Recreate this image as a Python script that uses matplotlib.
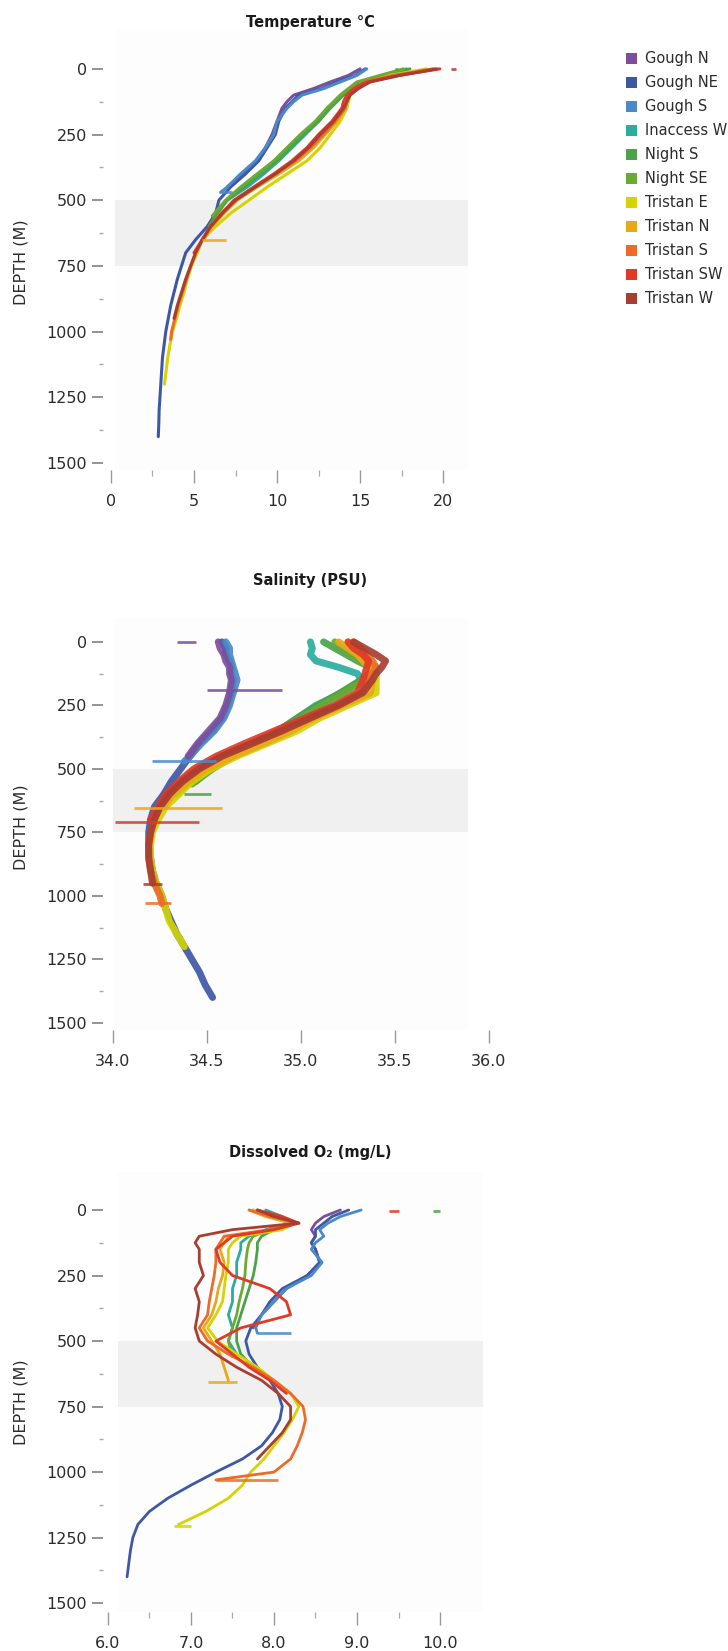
import matplotlib
matplotlib.use("Agg")
import matplotlib.pyplot as plt
from matplotlib.patches import Rectangle
from matplotlib.ticker import FixedLocator, FormatStrFormatter

plt.rcParams['font.family'] = ['DejaVu Sans']

# ---------------- data ----------------
STATIONS = ["Gough N", "Gough NE", "Gough S", "Inaccess W", "Night S", "Night SE",
            "Tristan E", "Tristan N", "Tristan S", "Tristan SW", "Tristan W"]
COLORS = ["#7b4f9e", "#3f58a6", "#4a8ac9", "#2aada0", "#4aa24a", "#6aaa35",
          "#d3d400", "#eaa819", "#ec6c27", "#e03a26", "#a83e32"]

GOUGH_N_DEPTH = [0, 25, 50, 75, 100, 125, 150, 200, 250, 300, 350, 400, 450]
GOUGH_N_TEMP = [15.0, 14.3, 13.2, 12.2, 11.0, 10.6, 10.3, 10.0, 9.7, 9.3, 8.8, 7.9, 7.0]
GOUGH_N_SAL = [34.56, 34.57, 34.59, 34.60, 34.62, 34.62, 34.63, 34.62, 34.60, 34.57, 34.51, 34.45, 34.40]
GOUGH_N_O2 = [8.8, 8.6, 8.5, 8.45, 8.5, 8.45, 8.5, 8.55, 8.4, 8.15, 8.0, 7.85, 7.75]

GOUGH_NE_DEPTH = [0, 25, 50, 75, 100, 125, 150, 200, 250, 300, 350, 400, 450, 500, 550, 600,
                  650, 700, 750, 800, 850, 900, 950, 1000, 1050, 1100, 1150, 1200, 1250, 1300, 1350, 1400]
GOUGH_NE_TEMP = [15.3, 14.7, 13.6, 12.7, 11.3, 10.9, 10.5, 10.1, 9.9, 9.4, 8.9, 8.1, 7.2, 6.5, 6.3, 5.8,
                 5.1, 4.5, 4.25, 4.0, 3.8, 3.6, 3.45, 3.3, 3.2, 3.1, 3.05, 3.0, 2.95, 2.9, 2.88, 2.85]
GOUGH_NE_SAL = [34.58, 34.60, 34.60, 34.62, 34.63, 34.63, 34.64, 34.63, 34.61, 34.58, 34.53, 34.46, 34.41,
                34.36, 34.31, 34.27, 34.22, 34.20, 34.19, 34.19, 34.20, 34.21, 34.23, 34.26, 34.28, 34.31,
                34.34, 34.38, 34.42, 34.46, 34.49, 34.53]
GOUGH_NE_O2 = [8.9, 8.7, 8.6, 8.5, 8.5, 8.45, 8.5, 8.55, 8.4, 8.1, 7.95, 7.85, 7.72, 7.66, 7.7, 7.8,
               7.95, 8.05, 8.1, 8.07, 7.98, 7.85, 7.62, 7.3, 7.0, 6.72, 6.5, 6.36, 6.3, 6.27, 6.25, 6.23]

GOUGH_S_DEPTH = [0, 25, 50, 75, 100, 125, 150, 200, 250, 300, 350, 400, 450, 470]
GOUGH_S_TEMP = [15.4, 14.8, 13.8, 12.8, 11.5, 11.0, 10.6, 10.0, 9.8, 9.3, 8.7, 7.8, 7.0, 6.6]
GOUGH_S_SAL = [34.60, 34.62, 34.62, 34.63, 34.64, 34.65, 34.66, 34.64, 34.62, 34.59, 34.54, 34.47, 34.41, 34.38]
GOUGH_S_O2 = [9.05, 8.8, 8.65, 8.55, 8.6, 8.5, 8.45, 8.58, 8.45, 8.15, 8.0, 7.85, 7.78, 7.8]

INACCESS_W_DEPTH = [0, 25, 50, 75, 100, 125, 150, 200, 250, 300, 350, 400, 450, 500, 550]
INACCESS_W_TEMP = [17.8, 16.5, 15.0, 14.4, 13.9, 13.5, 13.1, 12.5, 11.7, 10.9, 10.1, 9.2, 8.2, 7.0, 6.3]
INACCESS_W_SAL = [35.05, 35.06, 35.05, 35.08, 35.20, 35.30, 35.32, 35.22, 35.08, 34.98, 34.88, 34.76, 34.64, 34.52, 34.44]
INACCESS_W_O2 = [7.9, 8.1, 8.2, 7.9, 7.7, 7.6, 7.6, 7.55, 7.55, 7.5, 7.5, 7.45, 7.5, 7.45, 7.55]

NIGHT_S_DEPTH = [0, 25, 50, 75, 100, 125, 150, 200, 250, 300, 350, 400, 450, 500, 550, 600]
NIGHT_S_TEMP = [18.0, 16.6, 15.0, 14.5, 14.0, 13.6, 13.2, 12.5, 11.6, 10.8, 10.0, 9.0, 8.0, 7.0, 6.4, 5.9]
NIGHT_S_SAL = [35.12, 35.18, 35.24, 35.30, 35.37, 35.36, 35.32, 35.21, 35.09, 34.98, 34.88, 34.74, 34.61, 34.50, 34.41, 34.34]
NIGHT_S_O2 = [7.8, 8.0, 8.25, 8.0, 7.85, 7.8, 7.8, 7.78, 7.75, 7.7, 7.65, 7.6, 7.55, 7.55, 7.6, 7.75]

NIGHT_SE_DEPTH = [0, 25, 50, 75, 100, 125, 150, 200, 250, 300, 350, 400, 450, 500, 560]
NIGHT_SE_TEMP = [17.6, 16.2, 14.8, 14.3, 13.8, 13.4, 13.0, 12.3, 11.4, 10.6, 9.8, 8.8, 7.8, 6.9, 6.1]
NIGHT_SE_SAL = [35.18, 35.22, 35.27, 35.33, 35.40, 35.38, 35.34, 35.23, 35.11, 35.00, 34.90, 34.77, 34.64, 34.53, 34.42]
NIGHT_SE_O2 = [7.75, 7.95, 8.2, 7.95, 7.75, 7.7, 7.68, 7.66, 7.65, 7.62, 7.58, 7.55, 7.5, 7.45, 7.5]

TRISTAN_E_DEPTH = [0, 25, 50, 75, 100, 125, 150, 200, 250, 300, 350, 400, 450, 500, 550, 600,
                   650, 700, 750, 800, 850, 900, 950, 1000, 1050, 1100, 1150, 1200]
TRISTAN_E_TEMP = [19.0, 16.8, 15.5, 14.8, 14.4, 14.3, 14.2, 13.8, 13.2, 12.6, 11.8, 10.6, 9.4, 8.3, 7.2, 6.3,
                  5.5, 5.2, 4.85, 4.6, 4.4, 4.15, 3.95, 3.7, 3.55, 3.42, 3.32, 3.22]
TRISTAN_E_SAL = [35.25, 35.30, 35.33, 35.36, 35.38, 35.40, 35.40, 35.40, 35.25, 35.10, 34.98, 34.82, 34.66,
                 34.52, 34.42, 34.35, 34.28, 34.24, 34.21, 34.20, 34.20, 34.21, 34.23, 34.26, 34.28, 34.30,
                 34.34, 34.38]
TRISTAN_E_O2 = [7.75, 8.0, 8.25, 8.1, 7.6, 7.5, 7.45, 7.45, 7.42, 7.4, 7.38, 7.3, 7.2, 7.32, 7.55, 7.8,
                8.0, 8.2, 8.3, 8.22, 8.12, 8.0, 7.88, 7.72, 7.62, 7.45, 7.18, 6.85]

TRISTAN_N_DEPTH = [0, 25, 50, 75, 100, 125, 150, 200, 250, 300, 350, 400, 450, 500, 550, 600, 650]
TRISTAN_N_TEMP = [19.5, 17.2, 15.4, 14.6, 14.3, 14.2, 14.1, 13.6, 12.9, 12.2, 11.3, 10.1, 8.8, 7.6, 6.8, 6.1, 5.6]
TRISTAN_N_SAL = [35.20, 35.25, 35.30, 35.33, 35.36, 35.37, 35.38, 35.37, 35.22, 35.07, 34.95, 34.80, 34.64,
                 34.50, 34.40, 34.32, 34.27]
TRISTAN_N_O2 = [7.7, 7.9, 8.2, 8.0, 7.45, 7.4, 7.35, 7.4, 7.38, 7.33, 7.3, 7.25, 7.15, 7.25, 7.35, 7.4, 7.45]

TRISTAN_S_DEPTH = [0, 25, 50, 75, 100, 125, 150, 200, 250, 300, 350, 400, 450, 500, 550, 600,
                   650, 700, 750, 800, 850, 900, 950, 1000, 1030]
TRISTAN_S_TEMP = [19.4, 17.0, 15.3, 14.7, 14.3, 14.2, 14.1, 13.5, 12.8, 12.0, 11.1, 9.9, 8.6, 7.5, 6.6, 6.0,
                  5.5, 5.1, 4.8, 4.55, 4.3, 4.05, 3.85, 3.65, 3.6]
TRISTAN_S_SAL = [35.28, 35.32, 35.35, 35.38, 35.40, 35.38, 35.36, 35.32, 35.20, 35.04, 34.90, 34.74, 34.58,
                 34.45, 34.36, 34.30, 34.25, 34.22, 34.20, 34.19, 34.19, 34.20, 34.22, 34.25, 34.26]
TRISTAN_S_O2 = [7.7, 7.95, 8.3, 7.95, 7.4, 7.35, 7.3, 7.3, 7.28, 7.25, 7.22, 7.2, 7.1, 7.2, 7.45, 7.75,
                8.0, 8.2, 8.35, 8.38, 8.34, 8.28, 8.2, 8.0, 7.3]

TRISTAN_SW_DEPTH = [0, 25, 50, 75, 100, 125, 150, 200, 250, 300, 350, 400, 450, 500, 550, 600, 650, 700]
TRISTAN_SW_TEMP = [19.8, 17.3, 15.4, 14.6, 14.2, 14.0, 13.9, 13.3, 12.5, 11.8, 10.9, 9.8, 8.6, 7.4, 6.7, 6.0, 5.5, 5.0]
TRISTAN_SW_SAL = [35.25, 35.28, 35.33, 35.36, 35.35, 35.34, 35.33, 35.30, 35.18, 35.02, 34.86, 34.70, 34.55,
                  34.43, 34.35, 34.28, 34.24, 34.20]
TRISTAN_SW_O2 = [7.8, 8.1, 8.3, 8.0, 7.5, 7.4, 7.3, 7.35, 7.5, 7.95, 8.15, 8.2, 7.6, 7.3, 7.5, 7.7, 7.95, 8.15]

TRISTAN_W_DEPTH = [0, 25, 50, 75, 100, 125, 150, 200, 250, 300, 350, 400, 450, 500, 550, 600,
                   650, 700, 750, 800, 850, 900, 950]
TRISTAN_W_TEMP = [19.6, 17.4, 15.6, 14.9, 14.4, 14.2, 14.0, 13.4, 12.6, 11.9, 11.0, 9.9, 8.7, 7.5, 6.7, 6.0,
                  5.5, 5.1, 4.8, 4.5, 4.25, 4.0, 3.8]
TRISTAN_W_SAL = [35.28, 35.34, 35.40, 35.45, 35.43, 35.40, 35.38, 35.33, 35.20, 35.05, 34.90, 34.74, 34.58,
                 34.46, 34.37, 34.30, 34.25, 34.22, 34.20, 34.19, 34.19, 34.20, 34.21]
TRISTAN_W_O2 = [7.8, 8.0, 8.3, 7.5, 7.1, 7.05, 7.1, 7.1, 7.15, 7.05, 7.1, 7.08, 7.05, 7.1, 7.3, 7.55,
                7.85, 8.05, 8.2, 8.2, 8.1, 7.95, 7.8]

# short horizontal spikes / surface outliers visible in the profiles
SPIKE_PANEL = ["T", "T", "T", "T",
               "S", "S", "S", "S", "S", "S", "S", "S",
               "O", "O", "O", "O", "O", "O"]
SPIKE_STATION = ["Tristan N", "Gough S", "Tristan W", "Night S",
                 "Gough S", "Tristan N", "Tristan SW", "Tristan S", "Night S", "Gough N", "Tristan W", "Gough N",
                 "Gough S", "Tristan S", "Tristan E", "Tristan N", "Tristan SW", "Night S"]
SPIKE_DEPTH = [652, 470, 2, 2,
               470, 655, 708, 1028, 600, 190, 955, 0,
               470, 1030, 1207, 655, 5, 5]
SPIKE_LO = [5.5, 6.6, 20.45, 17.1,
            34.21, 34.11, 34.01, 34.17, 34.38, 34.50, 34.16, 34.34,
            7.8, 7.3, 6.79, 7.2, 9.38, 9.92]
SPIKE_HI = [6.9, 7.3, 20.75, 17.3,
            34.55, 34.58, 34.46, 34.31, 34.52, 34.90, 34.26, 34.44,
            8.2, 8.05, 7.0, 7.55, 9.50, 10.0]

DEPTHS = [GOUGH_N_DEPTH, GOUGH_NE_DEPTH, GOUGH_S_DEPTH, INACCESS_W_DEPTH, NIGHT_S_DEPTH, NIGHT_SE_DEPTH,
          TRISTAN_E_DEPTH, TRISTAN_N_DEPTH, TRISTAN_S_DEPTH, TRISTAN_SW_DEPTH, TRISTAN_W_DEPTH]
TEMPS = [GOUGH_N_TEMP, GOUGH_NE_TEMP, GOUGH_S_TEMP, INACCESS_W_TEMP, NIGHT_S_TEMP, NIGHT_SE_TEMP,
         TRISTAN_E_TEMP, TRISTAN_N_TEMP, TRISTAN_S_TEMP, TRISTAN_SW_TEMP, TRISTAN_W_TEMP]
SALS = [GOUGH_N_SAL, GOUGH_NE_SAL, GOUGH_S_SAL, INACCESS_W_SAL, NIGHT_S_SAL, NIGHT_SE_SAL,
        TRISTAN_E_SAL, TRISTAN_N_SAL, TRISTAN_S_SAL, TRISTAN_SW_SAL, TRISTAN_W_SAL]
O2S = [GOUGH_N_O2, GOUGH_NE_O2, GOUGH_S_O2, INACCESS_W_O2, NIGHT_S_O2, NIGHT_SE_O2,
       TRISTAN_E_O2, TRISTAN_N_O2, TRISTAN_S_O2, TRISTAN_SW_O2, TRISTAN_W_O2]

Y_MAJOR = [0, 250, 500, 750, 1000, 1250, 1500]
Y_MINOR = [125, 375, 625, 875, 1125, 1375]

# ---------------- figure ----------------
W, H = 728, 1651
DPI = 100
fig = plt.figure(figsize=(W / DPI, H / DPI), dpi=DPI)
PX = 72.0 / DPI  # points per pixel

TEXT = "#2b2b2b"
TICK = "#777777"
BAND = "#f0f0f0"
BG = "#fdfdfd"


def add_ax(left, right, top, bottom):
    return fig.add_axes([left / W, 1 - bottom / H, (right - left) / W, (bottom - top) / H])


def style(ax, xmaj, xmin, fmt):
    for s in ax.spines.values():
        s.set_visible(False)
    ax.set_facecolor("none")
    ax.yaxis.set_major_locator(FixedLocator(Y_MAJOR))
    ax.yaxis.set_minor_locator(FixedLocator(Y_MINOR))
    ax.xaxis.set_major_locator(FixedLocator(xmaj))
    ax.xaxis.set_minor_locator(FixedLocator(xmin))
    if fmt:
        ax.xaxis.set_major_formatter(FormatStrFormatter(fmt))
    ax.tick_params(axis="y", which="major", direction="out", length=11 * PX, width=1.1,
                   color=TICK, pad=5 * PX, labelsize=11.5, labelcolor=TEXT)
    ax.tick_params(axis="y", which="minor", direction="out", length=4 * PX, width=1.0, color="#aaaaaa")
    ax.tick_params(axis="x", which="major", direction="out", length=13 * PX, width=1.0,
                   color="#999999", pad=11 * PX, labelsize=11.5, labelcolor=TEXT)
    ax.tick_params(axis="x", which="minor", direction="out", length=6 * PX, width=0.9, color="#aaaaaa")


PANELS = [
    # key, values, title, title_y, label_y, box(l,r,t,b), xlim, ylim, band x, xmaj, xmin, fmt, lw
    ("T", TEMPS, "Temperature \u00b0C", 22, 262, (103, 468, 30, 470), (-0.48, 21.5), (1527, -148),
     (0.24, 21.5), [0, 5, 10, 15, 20], [2.5, 7.5, 12.5, 17.5], None, 2.2),
    ("S", SALS, "Salinity (PSU)", 581, 827, (103, 492, 618, 1030), (33.947, 36.016), (1528, -94),
     (34.0, 35.89), [34.0, 34.5, 35.0, 35.5, 36.0], [], "%.1f", 5.0),
    ("O", O2S, "Dissolved O\u2082 (mg/L)", 1152, 1402, (103, 483, 1172, 1612), (5.94, 10.518), (1534, -145),
     (6.12, 10.518), [6, 7, 8, 9, 10], [6.5, 7.5, 8.5, 9.5], "%.1f", 2.0),
]

for key, vals, title, ty, ly, box, xl, yl, bx, xmaj, xmin, fmt, lw in PANELS:
    ax = add_ax(*box)
    ax.set_xlim(*xl)
    ax.set_ylim(*yl)
    ax.fill_betweenx([yl[1], yl[0]], bx[0], bx[1], color=BG, lw=0, zorder=0)
    ax.fill_betweenx([500, 750], bx[0], bx[1], color=BAND, lw=0, zorder=0.5)
    for name, col, d, v in zip(STATIONS, COLORS, DEPTHS, vals):
        z = 3 if (key == "S" and name == "Gough N") else 2
        ax.plot(v, d, color=col, lw=lw, alpha=0.92 if key == "S" else 1.0,
                solid_capstyle="round", solid_joinstyle="round", zorder=z)
    for p, st, dd, lo, hi in zip(SPIKE_PANEL, SPIKE_STATION, SPIKE_DEPTH, SPIKE_LO, SPIKE_HI):
        if p == key:
            c = COLORS[STATIONS.index(st)]
            ax.hlines(dd, lo, hi, color=c, lw=2.0, alpha=0.85, zorder=3)
    style(ax, xmaj, xmin, fmt)
    fig.text(310 / W, 1 - ty / H, title, ha="center", va="center", fontsize=10.5,
             fontweight="bold", color="#1a1a1a")
    fig.text(21 / W, 1 - ly / H, "DEPTH (M)", rotation=90, ha="center", va="center",
             fontsize=11.5, color=TEXT)

# legend
for i, (name, col) in enumerate(zip(STATIONS, COLORS)):
    yc = 58.5 + 24 * i
    fig.add_artist(Rectangle((626 / W, 1 - (yc + 5.5) / H), 11 / W, 11 / H,
                             transform=fig.transFigure, facecolor=col, edgecolor="none"))
    fig.text(645 / W, 1 - yc / H, name, ha="left", va="center", fontsize=10.5, color=TEXT)

fig.savefig("out.png", dpi=DPI, facecolor="white")
